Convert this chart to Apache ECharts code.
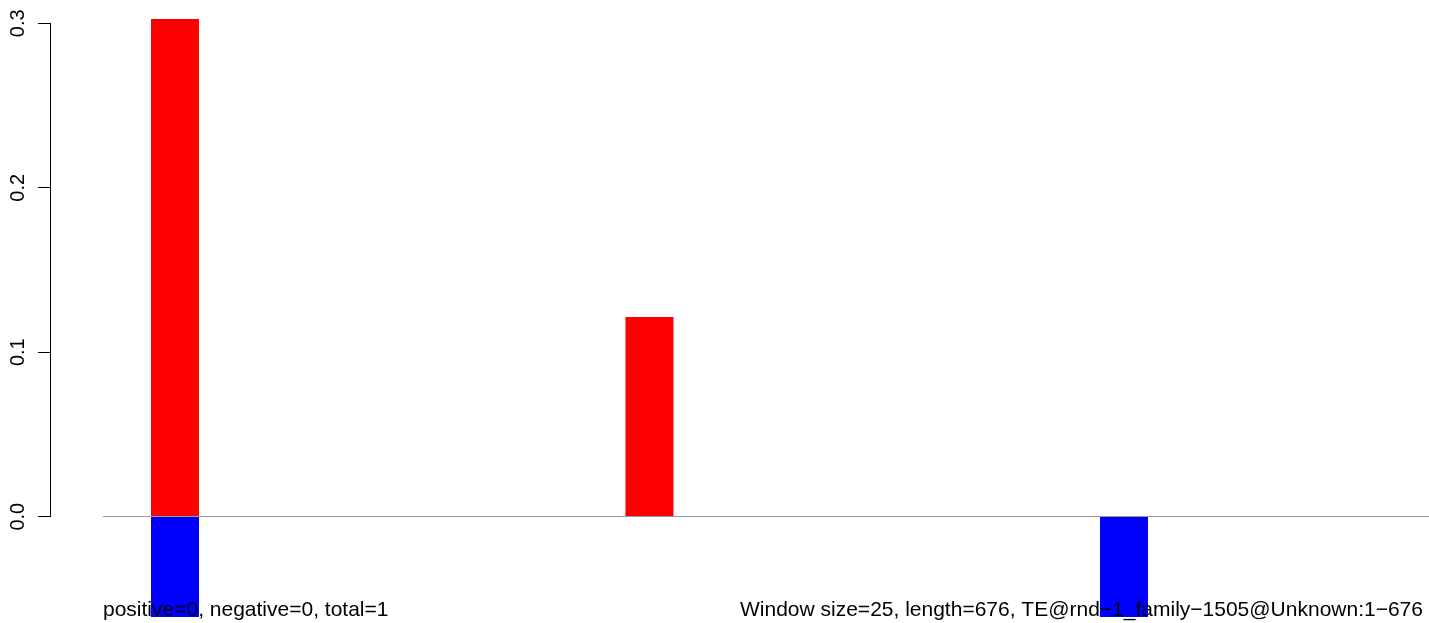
<!DOCTYPE html>
<html>
<head>
<meta charset="utf-8">
<title>window chart</title>
<script src="https://cdn.jsdelivr.net/npm/echarts@6/dist/echarts.min.js"></script>
<style>
  html, body { margin: 0; padding: 0; background: #fff; }
  #main { width: 1429px; height: 623px; }
</style>
</head>
<body>
<div id="main"></div>
<script>
// bar positions (window index) and values
const positions = [1, 2, 3];
const upValues = [0.3026, 0.1214, 0];
const downValues = [-0.061, 0, -0.061];
const yTicks = [0, 0.1, 0.2, 0.3];
const leftNote = "positive=0, negative=0, total=1";
const rightNote = "Window size=25, length=676, TE@rnd\u22121_family\u22121505@Unknown:1\u2212676";

// plot area in pixels
const plotTop = 19, plotHeight = 598;
const yMax = 0.3026, yMin = -0.061;
const pxPerUnit = plotHeight / (yMax - yMin);
const axisTop = plotTop + (yMax - yTicks[yTicks.length - 1]) * pxPerUnit;
const axisHeight = (yTicks[yTicks.length - 1] - yTicks[0]) * pxPerUnit;

const xMin = 0.8483, xMax = 3.6428;
const font = "'Liberation Sans', Arial, Helvetica, sans-serif";

var chart = echarts.init(document.getElementById("main"));
chart.setOption({
  animation: false,
  backgroundColor: "#fff",
  textStyle: { fontFamily: font },
  title: [
    { text: leftNote, left: 103, top: 600, padding: 0,
      textStyle: { fontSize: 21, fontWeight: "normal", color: "#000", fontFamily: font } },
    { text: rightNote, left: 740, top: 600, padding: 0,
      textStyle: { fontSize: 21, fontWeight: "normal", color: "#000", fontFamily: font } },
  ],
  grid: [
    { left: 103, right: 0, top: plotTop, height: plotHeight },
    { left: 50, width: 10, top: axisTop, height: axisHeight },
  ],
  xAxis: [
    { type: "value", gridIndex: 0, min: xMin, max: xMax, show: false },
    { type: "value", gridIndex: 1, show: false },
  ],
  yAxis: [
    { type: "value", gridIndex: 0, min: yMin, max: yMax, show: false },
    {
      type: "value", gridIndex: 1, min: 0, max: 0.3, interval: 0.1,
      axisLine: { show: true, lineStyle: { color: "#000", width: 1 } },
      axisTick: { show: true, length: 12, lineStyle: { color: "#000", width: 1 } },
      splitLine: { show: false },
      axisLabel: {
        rotate: 90, margin: 22, fontSize: 20, color: "#000", fontFamily: font,
        formatter: (v) => v.toFixed(1),
      },
    },
  ],
  series: [
    {
      type: "line", xAxisIndex: 0, yAxisIndex: 0, data: [], z: 1, silent: true,
      markLine: {
        silent: true, symbol: "none", label: { show: false },
        lineStyle: { color: "#999", width: 1, type: "solid" },
        data: [{ yAxis: 0 }],
      },
    },
    {
      type: "bar", xAxisIndex: 0, yAxisIndex: 0, stack: "w", barWidth: 48, z: 2,
      itemStyle: { color: "#ff0000" },
      data: positions.map((p, i) => [p, upValues[i]]),
    },
    {
      type: "bar", xAxisIndex: 0, yAxisIndex: 0, stack: "w", barWidth: 48, z: 2,
      itemStyle: { color: "#0000ff" },
      data: positions.map((p, i) => [p, downValues[i]]),
    },
  ],
});
</script>
</body>
</html>
